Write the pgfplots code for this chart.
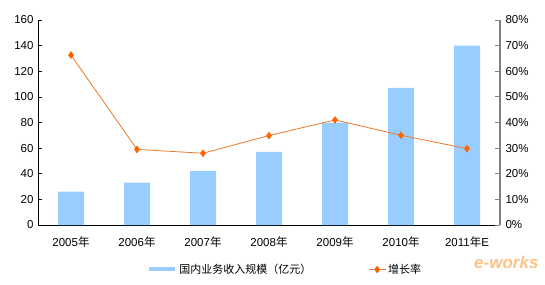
\documentclass[border=0pt]{standalone}
\usepackage{fontspec}
\setmainfont{Liberation Sans}
\newfontfamily\cjk{Noto Sans CJK SC}
\usepackage{pgfplots}
\pgfplotsset{compat=1.18}
\definecolor{barblue}{RGB}{153,204,255}
\definecolor{lineor}{RGB}{236,120,40}
\definecolor{markor}{RGB}{255,102,0}
\definecolor{axgray}{RGB}{128,128,128}
\begin{document}
\begin{tikzpicture}[x=1bp,y=1bp]
\useasboundingbox (0,0) rectangle (545,284);
\begin{axis}[
  at={(38bp,59bp)}, anchor=south west,
  scale only axis, width=462bp, height=205bp,
  xmin=-0.5, xmax=6.5, ymin=0, ymax=160,
  axis x line*=bottom, axis y line*=left,
  axis line style={black, line width=0.8pt, -},
  xtick={0,...,6},
  xticklabels={2005{\cjk 年},2006{\cjk 年},2007{\cjk 年},2008{\cjk 年},2009{\cjk 年},2010{\cjk 年},2011{\cjk 年}E},
  x tick style={draw=none},
  extra x ticks={0.5,1.5,2.5,3.5,4.5,5.5},
  extra x tick labels={},
  extra x tick style={tick style={draw=black, line width=0.6pt}, major tick length=4bp, tick align=inside},
  ytick={0,20,...,160},
  y tick style={black, line width=0.6pt},
  major tick length=4bp, tick align=inside,
  tick label style={font=\fontsize{11.5bp}{13bp}\selectfont},
  /pgf/number format/assume math mode=true,
  xticklabel style={yshift=-8bp},
  yticklabel style={xshift=-1bp},
]
\addplot[ybar, bar width=26bp, fill=barblue, draw=none] coordinates {
(0,26) (1,33) (2,42) (3,57) (4,80) (5,107) (6,140)};
\end{axis}
\begin{axis}[
  at={(38bp,59bp)}, anchor=south west,
  scale only axis, width=462bp, height=205bp,
  xmin=-0.5, xmax=6.5, ymin=0, ymax=80,
  axis x line=none, axis y line*=right,
  axis line style={axgray, line width=1.3pt, -},
  ytick={0,10,...,80},
  yticklabels={0\%,10\%,20\%,30\%,40\%,50\%,60\%,70\%,80\%},
  y tick style={axgray, line width=0.8pt},
  major tick length=5bp, tick align=inside,
  tick label style={font=\fontsize{11.5bp}{13bp}\selectfont},
  yticklabel style={xshift=2bp},
  legend style={at={(0.535,-0.17)}, anchor=north, draw=none, fill=none,
    font=\cjk\fontsize{11bp}{13bp}\selectfont, legend columns=2,
    /tikz/every even column/.append style={column sep=55bp}},
  legend cell align=left,
]
\addlegendimage{legend image code/.code={\draw[barblue, line width=4bp] (0bp,0bp) -- (26bp,0bp);}}
\addlegendentry{国内业务收入规模（亿元）}
\addplot[lineor, line width=0.8pt, mark=diamond*, mark size=3.2bp, mark options={fill=markor, draw=markor}] coordinates {
(0,66.3) (1,29.5) (2,28) (3,34.9) (4,41) (5,35) (6,29.8)};
\addlegendentry{增长率}
\end{axis}
\node[anchor=east, font=\bfseries\itshape\fontsize{17bp}{19bp}\selectfont, text=orange!80, opacity=0.6] at (542,22) {e-works};
\end{tikzpicture}
\end{document}
